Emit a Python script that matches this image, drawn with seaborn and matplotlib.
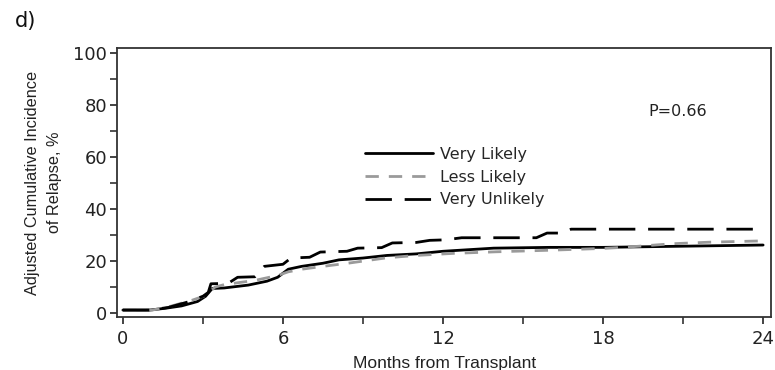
import matplotlib
matplotlib.use("Agg")
import matplotlib.pyplot as plt
from matplotlib.ticker import MultipleLocator
from matplotlib.lines import Line2D
import seaborn as sns
import pandas as pd

# Adjusted cumulative incidence of relapse (%) by months from transplant
vl_months = [0, 1.0, 1.6, 2.2, 2.8, 3.1, 3.35, 3.8, 4.7, 5.4, 5.8, 6.2, 6.7, 7.5, 8.1,
             9.0, 9.9, 11.0, 12.0, 13.9, 16.0, 18.0, 20.0, 22.0, 24.0]
vl_values = [1.2, 1.2, 1.9, 2.8, 4.5, 6.5, 9.5, 9.7, 10.8, 12.3, 13.8, 16.9, 18.0, 19.2, 20.5,
             21.2, 22.2, 22.8, 23.8, 25.0, 25.3, 25.3, 25.6, 25.9, 26.2]

ll_months = [0, 1.1, 1.7, 2.6, 3.1, 3.45, 3.8, 4.95, 5.8, 6.2, 6.7, 7.5, 8.5, 9.9, 11.0,
             12.4, 14.0, 16.0, 18.0, 18.9, 20.6, 22.0, 24.0]
ll_values = [1.2, 1.2, 2.4, 5.0, 6.8, 10.0, 11.0, 12.6, 14.5, 15.9, 16.9, 18.0, 19.3, 21.3, 22.2,
             23.0, 23.6, 24.2, 24.9, 25.4, 26.7, 27.3, 27.8]

vu_months = [0, 1.0, 1.7, 2.5, 3.0, 3.2, 3.3, 3.95, 4.3, 4.95, 5.3, 6.0, 6.3, 7.0, 7.4,
             8.4, 8.8, 9.7, 10.1, 11.0, 11.5, 12.1, 12.7, 15.5, 15.9, 16.5, 16.8, 24.0]
vu_values = [1.2, 1.2, 2.2, 4.5, 6.5, 8.0, 11.3, 11.5, 13.8, 14.0, 18.0, 18.8, 21.2, 21.5, 23.5,
             23.8, 25.0, 25.2, 27.0, 27.2, 28.0, 28.2, 29.0, 29.0, 30.8, 30.8, 32.3, 32.3]

groups = ["Very Likely", "Less Likely", "Very Unlikely"]
p_value_text = "P=0.66"
x_ticks = [0, 6, 12, 18, 24]
y_ticks = [0, 20, 40, 60, 80, 100]

df = pd.concat([
    pd.DataFrame({"month": vl_months, "incidence": vl_values, "group": groups[0]}),
    pd.DataFrame({"month": ll_months, "incidence": ll_values, "group": groups[1]}),
    pd.DataFrame({"month": vu_months, "incidence": vu_values, "group": groups[2]}),
], ignore_index=True)

sns.set_theme(style="white")
plt.rcParams["font.family"] = ["DejaVu Sans"]

fig = plt.figure(figsize=(7.75, 3.7), dpi=100)
ax = fig.add_axes([0.151, 0.143, 0.844, 0.727])

palette = {groups[0]: "black", groups[1]: "#9a9a9a", groups[2]: "black"}
dashes = {groups[0]: "", groups[1]: (4.8, 3.6), groups[2]: (9.5, 4.6)}

sns.lineplot(data=df, x="month", y="incidence", hue="group", style="group",
             palette=palette, dashes=dashes, estimator=None, sort=True,
             linewidth=2.0, legend=False, ax=ax)

ax.set_xlim(-0.22, 24.3)
ax.set_ylim(-1.5, 101.9)
ax.set_xticks(x_ticks)
ax.set_yticks(y_ticks)
ax.xaxis.set_minor_locator(MultipleLocator(3))
ax.yaxis.set_minor_locator(MultipleLocator(10))
ax.tick_params(which="both", direction="out", length=5, width=1.2, color="#333333",
               bottom=True, left=True)
ax.tick_params(axis="both", labelsize=13, colors="#222222")
ax.tick_params(axis="y", pad=2)
ax.tick_params(axis="x", pad=4)
for s in ax.spines.values():
    s.set_color("#333333")
    s.set_linewidth(1.3)

ax.set_xlabel("Months from Transplant", fontsize=12.5,
              family=["Liberation Sans", "DejaVu Sans"], labelpad=6, color="#222222")
ax.set_ylabel("Adjusted Cumulative Incidence\nof Relapse, %", fontsize=11.7,
              family=["Liberation Sans Narrow", "Liberation Sans"], labelpad=8,
              color="#222222", linespacing=1.65)

ax.text(0.813, 0.766, p_value_text, transform=ax.transAxes, fontsize=11.5,
        color="#222222", va="center")

handles = [
    Line2D([], [], color="black", lw=2.0, linestyle="-"),
    Line2D([], [], color="#9a9a9a", lw=2.0, dashes=(4.8, 3.6)),
    Line2D([], [], color="black", lw=2.0, dashes=(9.5, 4.6)),
]
ax.legend(handles, groups, loc="upper left", bbox_to_anchor=(0.379, 0.632),
          frameon=False, handlelength=4.25, handletextpad=0.45, labelspacing=0.47,
          borderpad=0, borderaxespad=0,
          prop={"family": ["DejaVu Sans"], "size": 11.5})

fig.text(0.019, 0.943, "d)", fontsize=15, color="#111111", va="center")

fig.savefig("out.png", dpi=100)
